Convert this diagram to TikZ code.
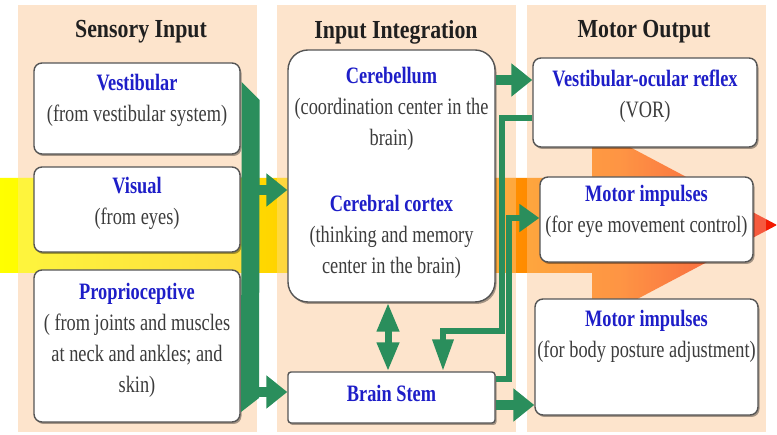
\documentclass[tikz,border=0pt]{standalone}
\usepackage{fontspec}
\setmainfont{Liberation Serif}
\newfontfamily\bodyfont[FakeStretch=0.78]{Liberation Serif}
\newfontfamily\titlefont[FakeStretch=0.84]{Liberation Serif}
\usetikzlibrary{arrows.meta,shadows,calc}
\definecolor{peach}{RGB}{253,228,204}
\definecolor{gcol}{RGB}{42,142,92}
\definecolor{hdblue}{RGB}{30,30,200}
\definecolor{txtgray}{RGB}{60,60,60}
\definecolor{bordergray}{RGB}{85,85,85}
\pgfdeclarehorizontalshading{bigarrow}{100bp}{rgb(0bp)=(1,1,0); rgb(25bp)=(1,1,0); rgb(42bp)=(1,0.843,0); rgb(58.6bp)=(1,0.55,0); rgb(64.9bp)=(1,0.45,0.04); rgb(75bp)=(0.95,0.08,0); rgb(100bp)=(0.95,0.08,0)}
\newcommand{\hdtxt}[1]{\textcolor{hdblue}{\textbf{#1}}}
\begin{document}
\begin{tikzpicture}[x=1pt,y=-1pt,
  panel/.style={fill=peach},
  box/.style={draw=bordergray, line width=1.4pt, fill=white, rounded corners=8pt,
    drop shadow={shadow xshift=1.5pt, shadow yshift=-2pt, fill=black, opacity=0.35},
    inner sep=0pt},
  txt/.style={align=center, font=\bodyfont\fontsize{23.5pt}{31pt}\selectfont, text=txtgray, inner sep=0pt},
  ttl/.style={font=\titlefont\bfseries\fontsize{26pt}{30pt}\selectfont, text=black!88, inner sep=0pt, anchor=base},
  gthick/.style={draw=gcol, line width=10pt, -{Triangle[length=21pt,width=32pt]}},
  gthin/.style={draw=gcol, line width=6.5pt},
]
\useasboundingbox (0,0) rectangle (777,435);
\fill[white] (0,0) rectangle (777,435);
% panels
\fill[panel] (18,5) rectangle (257,432);
\fill[panel] (277,5) rectangle (516,432);
\fill[panel] (527,5) rectangle (766,432);
% big arrow
\shade[shading=bigarrow] (0,178) -- (592,178) -- (592,127) -- (777,225) -- (592,323) -- (592,273) -- (0,273) -- cycle;
% panel tint over the arrow
\fill[peach, fill opacity=0.3] (18,178) rectangle (257,273);
\fill[peach, fill opacity=0.3] (277,178) rectangle (516,273);
\fill[peach, fill opacity=0.3] (527,127) rectangle (766,323);
% titles
\node[ttl] (t1) at (141,38) {Sensory Input};
\node[ttl] (t2) at (396,39) {Input Integration};
\node[ttl] (t3) at (644,38) {Motor Output};
% boxes
\node[box, minimum width=206pt, minimum height=91pt] (vest) at (137,108.5) {};
\node[box, minimum width=206pt, minimum height=85pt] (vis) at (137,209.5) {};
\node[box, minimum width=206pt, minimum height=152pt] (prop) at (137,346) {};
\node[box, minimum width=207pt, minimum height=252pt, rounded corners=20pt] (cereb) at (391.5,176) {};
\node[box, minimum width=207pt, minimum height=51pt, rounded corners=3pt] (bs) at (391.5,397.5) {};
\node[box, minimum width=224pt, minimum height=89pt] (vor) at (645,102.5) {};
\node[box, minimum width=213pt, minimum height=85pt] (eye) at (646.5,219.5) {};
\node[box, minimum width=223pt, minimum height=116pt] (body) at (646.5,357) {};
% texts
\node[txt] (vestT) at (137,100) {\hdtxt{Vestibular}\\(from vestibular system)};
\node[txt] (visT) at (137,203.5) {\hdtxt{Visual}\\(from eyes)};
\node[txt] (propT) at (137,340) {\hdtxt{Proprioceptive}\\( from joints and muscles\\at neck and ankles; and\\skin)};
\node[txt] (cerebT) at (391.5,109) {\hdtxt{Cerebellum}\\(coordination center in the\\brain)};
\node[txt] (cortT) at (391.5,237) {\hdtxt{Cerebral cortex}\\(thinking and memory\\center in the brain)};
\node[txt] (bsT) at (391.5,393) {\hdtxt{Brain Stem}};
\node[txt] (vorT) at (645,96.5) {\hdtxt{Vestibular-ocular reflex}\\(VOR)};
\node[txt] (eyeT) at (646.5,211.5) {\hdtxt{Motor impulses}\\(for eye movement control)};
\node[txt] (bodyT) at (646.5,336.5) {\hdtxt{Motor impulses}\\(for body posture adjustment)};
% helper coordinates
\coordinate (barA) at (252,190);
\coordinate (barB) at (252,392);
\coordinate (y80) at (0,80);
\coordinate (y405) at (0,405);
\coordinate (a1) at (502,118);
\coordinate (a2) at (502,331);
\coordinate (a3) at (443,331);
\coordinate (b1) at (509,379);
\coordinate (b2) at (509,218);
\coordinate (dx) at (388,0);
% left green bar from the vestibular box
\fill[gcol] ($(vest.east)+(1,-26.5)$) -- ++(18,18) -- (259,398) -- (241,412) -- cycle;
\draw[gthick] (barA) -- (barA -| cereb.west);
\draw[gthick] (barB) -- (barB -| bs.west);
% cerebellum to VOR
\draw[gthick] (cereb.east |- y80) -- (vor.west |- y80);
% VOR to brain stem
\draw[gthin, -{Triangle[length=32pt,width=20pt]}] (vor.west |- a1) -- (a1) -- (a2) -- (a3) -- (a3 |- bs.north);
% brain stem to eye movement control
\draw[gthin, -{Triangle[length=20pt,width=27pt]}] (bs.east |- b1) -- (b1) -- (b2) -- (b2 -| eye.west);
% cerebrum <-> brain stem
\draw[draw=gcol, line width=7pt, {Triangle[length=29pt,width=21pt]}-{Triangle[length=29pt,width=21pt]}] (dx |- cereb.south) -- (dx |- bs.north);
% brain stem to body posture
\draw[gthick] (bs.east |- y405) -- (body.west |- y405);
\end{tikzpicture}
\end{document}
